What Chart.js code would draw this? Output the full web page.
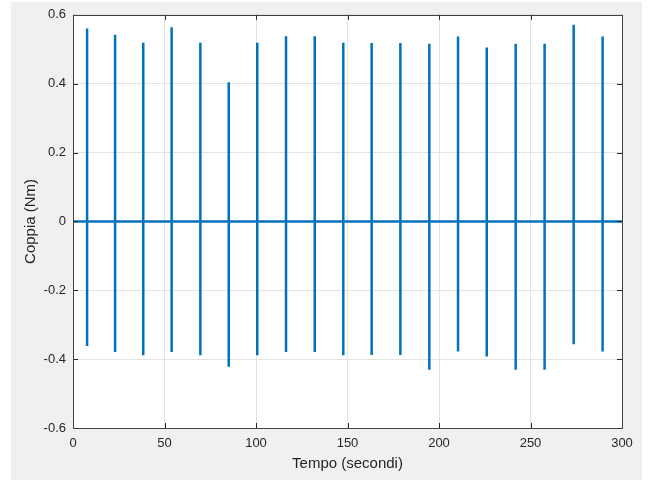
<!DOCTYPE html>
<html>
<head>
<meta charset="utf-8">
<script src="https://cdn.jsdelivr.net/npm/chart.js@4"></script>
<style>
  html, body { margin: 0; padding: 0; background: #ffffff; }
  #wrap { position: relative; width: 649px; height: 482px; }
  canvas { display: block; }
</style>
</head>
<body>
<div id="wrap"><canvas id="c" width="649" height="482"></canvas></div>
<script>
// Times of the torque spikes (s)
const spikeTimes = [7.7, 23.0, 38.4, 53.9, 69.6, 85.1, 100.7, 116.4, 132.1, 147.7,
                    163.2, 178.9, 194.7, 210.4, 226.1, 241.9, 257.7, 273.6, 289.4];
// Positive peak of each spike (Nm)
const peakValues = [0.560, 0.542, 0.519, 0.564, 0.519, 0.404, 0.519, 0.538, 0.538, 0.519,
                    0.518, 0.518, 0.516, 0.537, 0.505, 0.516, 0.516, 0.571, 0.537];
// Negative peak of each spike (Nm)
const troughValues = [-0.362, -0.379, -0.389, -0.379, -0.389, -0.422, -0.389, -0.379, -0.379, -0.389,
                      -0.388, -0.388, -0.431, -0.378, -0.392, -0.431, -0.431, -0.357, -0.378];
const xRange = [0, 300];
const yRange = [-0.6, 0.6];
const xTicks = [0, 50, 100, 150, 200, 250, 300];
const yTicks = [-0.6, -0.4, -0.2, 0, 0.2, 0.4, 0.6];
const xTitle = 'Tempo (secondi)';
const yTitle = 'Coppia (Nm)';

// Build the signal polyline from the arrays
const signal = [{x: xRange[0], y: 0}];
spikeTimes.forEach((t, i) => {
  signal.push({x: t, y: 0});
  signal.push({x: t, y: peakValues[i]});
  signal.push({x: t, y: troughValues[i]});
  signal.push({x: t, y: 0});
});
signal.push({x: xRange[1], y: 0});

const textColor = '#262626';
const FONT = '"Liberation Sans", Arial, Helvetica, sans-serif';

const panelBg = {
  id: 'panelBg',
  beforeDraw(chart) {
    const ctx = chart.ctx;
    ctx.save();
    ctx.fillStyle = '#f0f0f0';
    ctx.fillRect(11, 2, 631, 478);
    const a = chart.chartArea;
    ctx.fillStyle = '#ffffff';
    ctx.fillRect(a.left, a.top, a.right - a.left, a.bottom - a.top);
    ctx.restore();
  }
};

const boxTicks = {
  id: 'boxTicks',
  afterDraw(chart) {
    const ctx = chart.ctx;
    const a = chart.chartArea;
    const xs = chart.scales.x, ys = chart.scales.y;
    const L = 5;
    ctx.save();
    ctx.strokeStyle = textColor;
    ctx.lineWidth = 1;
    ctx.beginPath();
    xTicks.forEach(v => {
      const px = Math.round(xs.getPixelForValue(v)) + 0.5;
      ctx.moveTo(px, a.bottom); ctx.lineTo(px, a.bottom - L);
      ctx.moveTo(px, a.top); ctx.lineTo(px, a.top + L);
    });
    yTicks.forEach(v => {
      const py = Math.round(ys.getPixelForValue(v)) + 0.5;
      ctx.moveTo(a.left, py); ctx.lineTo(a.left + L, py);
      ctx.moveTo(a.right, py); ctx.lineTo(a.right - L, py);
    });
    ctx.stroke();
    ctx.strokeStyle = '#404040';
    ctx.strokeRect(Math.round(a.left) + 0.5, Math.round(a.top) + 0.5,
                   Math.round(a.right - a.left), Math.round(a.bottom - a.top));
    ctx.restore();
  }
};

new Chart(document.getElementById('c'), {
  type: 'scatter',
  data: {
    datasets: [{
      data: signal,
      showLine: true,
      borderColor: '#0072BD',
      backgroundColor: '#0072BD',
      borderWidth: 2.5,
      pointRadius: 0,
      tension: 0
    }]
  },
  options: {
    responsive: false,
    animation: false,
    events: [],
    layout: { padding: { left: 0, right: 27, top: 14, bottom: 0 } },
    plugins: { legend: { display: false }, tooltip: { enabled: false } },
    scales: {
      x: {
        type: 'linear',
        min: xRange[0], max: xRange[1],
        afterBuildTicks(s) { s.ticks = xTicks.map(v => ({value: v})); },
        afterFit(s) { s.height = 54; },
        grid: { color: '#e3e3e3', drawTicks: false },
        border: { display: false },
        ticks: { color: textColor, font: { family: FONT, size: 13 }, padding: 8, maxRotation: 0,
                 callback: v => String(v) },
        title: { display: true, text: xTitle, color: textColor,
                 font: { family: FONT, size: 15 }, padding: { top: 0, bottom: 9 } }
      },
      y: {
        type: 'linear',
        min: yRange[0], max: yRange[1],
        afterBuildTicks(s) { s.ticks = yTicks.map(v => ({value: v})); },
        afterFit(s) { s.width = 73; },
        grid: { color: '#e3e3e3', drawTicks: false },
        border: { display: false },
        ticks: { color: textColor, font: { family: FONT, size: 13 }, padding: 7,
                 callback: v => (Math.abs(v) < 1e-9 ? '0' : String(Math.round(v * 10) / 10)) },
        title: { display: true, text: yTitle, color: textColor,
                 font: { family: FONT, size: 15 }, padding: { top: 22, bottom: 0 } }
      }
    }
  },
  plugins: [panelBg, boxTicks]
});
</script>
</body>
</html>
